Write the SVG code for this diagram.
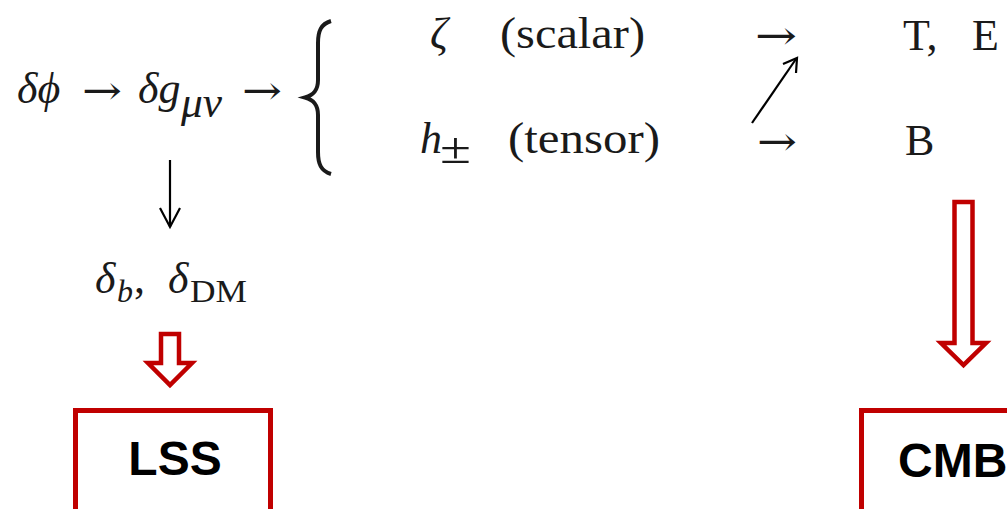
<svg xmlns="http://www.w3.org/2000/svg" width="1007" height="509" viewBox="0 0 1007 509">
<style>
.m{font-family:"Liberation Serif","DejaVu Serif",serif;fill:#1a1a1a;font-size:44px}
.i{font-style:italic}
.s{font-size:32px}
.ar{font-family:"DejaVu Serif",serif;font-size:40px;fill:#1a1a1a;font-weight:normal}
.box{fill:#fff;stroke:#C00000;stroke-width:5}
.lbl{font-family:"Liberation Sans",Arial,sans-serif;font-weight:bold;font-size:48px;fill:#000}
.thin{stroke:#000;stroke-width:2.2;fill:none}
.hollow{fill:#fff;stroke:#C00000;stroke-width:4.5;stroke-linejoin:miter}
</style>
<rect width="1007" height="509" fill="#fff"/>
<g id="eq-top">
<text class="m i" x="17" y="103">δϕ</text>
<text class="ar" x="82" y="104" textLength="40" lengthAdjust="spacingAndGlyphs">→</text>
<text class="m i" x="138" y="103">δg</text>
<text class="m i" x="181" y="117" font-size="34" textLength="41" lengthAdjust="spacingAndGlyphs">μν</text>
<text class="ar" x="242" y="104" textLength="40" lengthAdjust="spacingAndGlyphs">→</text>
<path d="M331,21 C321,24 318,31 318,43 L318,80 C318,90 314,95 305,97.5 C314,100 318,105 318,115 L318,152 C318,164 321,171 331,174" fill="none" stroke="#1a1a1a" stroke-width="4"/>
</g>
<g id="row-scalar">
<text class="m i" x="430" y="48">ζ</text>
<text class="m" x="500" y="48" textLength="145" lengthAdjust="spacingAndGlyphs">(scalar)</text>
<text class="ar" x="755" y="49" textLength="42" lengthAdjust="spacingAndGlyphs">→</text>
<text class="m" x="903" y="50">T,</text>
<text class="m" x="972" y="50">E</text>
</g>
<g id="row-tensor">
<text class="m i" x="420" y="153">h</text>
<text class="m" x="440" y="163" font-size="38" textLength="31" lengthAdjust="spacingAndGlyphs">±</text>
<text class="m" x="508" y="153" textLength="152" lengthAdjust="spacingAndGlyphs">(tensor)</text>
<text class="ar" x="757" y="155" textLength="40" lengthAdjust="spacingAndGlyphs">→</text>
<text class="m" x="905" y="155">B</text>
</g>
<g id="delta-b">
<text class="m i" x="95" y="293">δ</text>
<text class="m i s" x="117" y="302">b</text>
<text class="m" x="134" y="293">,</text>
<text class="m i" x="168" y="293">δ</text>
<text class="m s" x="190" y="302" textLength="57" lengthAdjust="spacingAndGlyphs">DM</text>
</g>
<g id="lss">
<rect class="box" x="75.5" y="410.5" width="195" height="120"/>
<text class="lbl" x="175" y="475" text-anchor="middle">LSS</text>
</g>
<g id="cmb">
<rect class="box" x="861.5" y="410.5" width="200" height="120"/>
<text class="lbl" x="898" y="477">CMB</text>
</g>
<g id="connectors">
<line class="thin" x1="170" y1="160" x2="170" y2="227"/>
<polyline class="thin" points="160,208 170,227 180,208"/>
<line class="thin" x1="752" y1="123" x2="796" y2="59"/>
<polyline class="thin" points="783,64 797,58 796,73"/>
<polygon class="hollow" points="161,334 179,334 179,363 192,363 170,385 148,363 161,363"/>
<polygon class="hollow" points="954.5,202 972.5,202 972.5,343 986,343 963.5,365 941,343 954.5,343"/>
</g>
</svg>
